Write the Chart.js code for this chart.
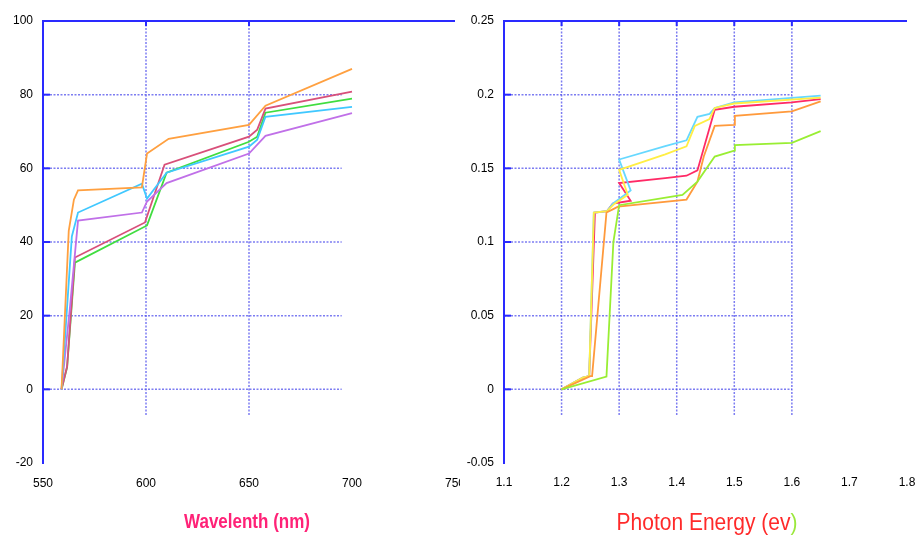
<!DOCTYPE html>
<html>
<head>
<meta charset="utf-8">
<script src="https://cdn.jsdelivr.net/npm/chart.js@4"></script>
<style>
  html, body { margin: 0; padding: 0; background: #fff; }
  body { width: 917px; height: 536px; overflow: hidden; position: relative; }
  .box { position: absolute; top: 0; height: 536px; background: #fff; }
  #leftBox { left: 0; width: 480px; }
  #rightBox { left: 460px; width: 480px; }
  .ttl { position: absolute; white-space: nowrap; font-family: "Liberation Sans", Arial, sans-serif; }
  #ttlLeft { left: 247px; top: 522px; transform: translate(-50%, -50%) scaleY(1.2); font-weight: bold; font-size: 17px; color: #ff2277; }
  #ttlRight { left: 707px; top: 522px; transform: translate(-50%, -50%) scaleY(1.15); font-size: 21px; color: #ff2a2a; }
</style>
</head>
<body>
<div class="box" id="leftBox"><canvas id="canvas1" width="480" height="536"></canvas></div>
<div class="box" id="rightBox"><canvas id="canvas2" width="480" height="536"></canvas></div>
<div class="ttl" id="ttlLeft">Wavelenth (nm)</div>
<div class="ttl" id="ttlRight">Photon Energy (ev<span style="color:#9be83c">)</span></div>
<script>
// left chart: wavelength (nm)
let orangeX = [559, 562.5, 565, 567, 598, 600.5, 611, 650, 658, 700];
let orangeY = [0, 43, 51.5, 54, 54.8, 64, 68, 71.8, 77, 87];
let cyanX = [559, 564, 567, 598, 600.5, 610, 650, 654, 658, 700];
let cyanY = [0, 41.5, 48, 55.8, 51.8, 58.8, 65.9, 67.8, 74, 76.7];
let violetX = [559, 563, 567, 598, 600.5, 610, 650, 658, 700];
let violetY = [0, 21.7, 45.8, 48, 51, 56, 64, 68.8, 75];
let roseX = [559, 561.7, 565.5, 599.5, 609, 650, 654, 658, 700];
let roseY = [0, 6.2, 35.8, 45.3, 61, 68.6, 70.5, 76.2, 80.8];
let greenX = [559, 561.7, 565.5, 600.5, 610, 650, 654, 658, 700];
let greenY = [0, 6, 34.4, 44.5, 58.8, 67.2, 68.6, 75.1, 78.9];

// right chart: photon energy (ev)
let redE = [1.2, 1.237, 1.248, 1.258, 1.279, 1.289, 1.32, 1.30, 1.38, 1.417, 1.436, 1.466, 1.5, 1.6, 1.65];
let redV = [0, 0.008, 0.009, 0.12, 0.121, 0.126, 0.128, 0.14, 0.1434, 0.145, 0.1486, 0.1897, 0.1918, 0.1947, 0.197];
let cyanE = [1.2, 1.237, 1.248, 1.256, 1.279, 1.289, 1.32, 1.30, 1.38, 1.417, 1.436, 1.457, 1.466, 1.5, 1.65];
let cyanV = [0, 0.008, 0.009, 0.12, 0.121, 0.126, 0.135, 0.156, 0.165, 0.169, 0.185, 0.187, 0.191, 0.1947, 0.1993];
let yellowE = [1.2, 1.237, 1.248, 1.256, 1.279, 1.292, 1.315, 1.30, 1.38, 1.417, 1.4315, 1.457, 1.466, 1.5, 1.65];
let yellowV = [0, 0.008, 0.009, 0.12, 0.121, 0.126, 0.132, 0.149, 0.1595, 0.165, 0.1788, 0.1835, 0.191, 0.194, 0.198];
let orangeE = [1.2, 1.25, 1.253, 1.278, 1.288, 1.298, 1.417, 1.436, 1.447, 1.466, 1.5, 1.501, 1.6, 1.65];
let orangeV = [0, 0.0089, 0.009, 0.12, 0.122, 0.124, 0.1288, 0.141, 0.158, 0.1788, 0.1795, 0.1856, 0.1886, 0.1954];
let greenE = [1.2, 1.278, 1.29, 1.3, 1.41, 1.436, 1.466, 1.5, 1.501, 1.6, 1.65];
let greenV = [0, 0.0087, 0.1, 0.125, 0.132, 0.141, 0.158, 0.162, 0.1658, 0.1673, 0.1753];

let leftTicksY = [-20, 100, 20];
let leftTicksX = [550, 750, 50];
let rightTicksY = [-0.05, 0.25, 0.05];
let rightTicksX = [1.1, 1.8, 0.1];

function pts(xs, ys) {
  return xs.map(function(v, i) { return {x: v, y: ys[i]}; });
}

function line(label, xs, ys, color) {
  return {label: label, data: pts(xs, ys), borderColor: color, backgroundColor: color,
    borderWidth: 1.8, pointRadius: 0, tension: 0, fill: false};
}

// dotted grid that stops short of the right edge, plus the solid top line
let dotGrid = {
  id: 'dotGrid',
  beforeDatasetsDraw: function(chart, args, opts) {
    let ctx = chart.ctx, a = chart.chartArea, x = chart.scales.x, y = chart.scales.y;
    ctx.save();
    ctx.strokeStyle = 'rgba(70,70,235,0.7)';
    ctx.lineWidth = 1.5;
    ctx.setLineDash([2, 1.5]);
    opts.ys.forEach(function(v) {
      let py = y.getPixelForValue(v);
      ctx.beginPath(); ctx.moveTo(a.left, py); ctx.lineTo(x.getPixelForValue(opts.xEnd), py); ctx.stroke();
    });
    opts.xs.forEach(function(v) {
      let px = x.getPixelForValue(v);
      ctx.beginPath(); ctx.moveTo(px, a.top); ctx.lineTo(px, y.getPixelForValue(opts.yEnd)); ctx.stroke();
    });
    ctx.setLineDash([]);
    ctx.strokeStyle = '#2a2aff';
    ctx.lineWidth = 2;
    ctx.beginPath(); ctx.moveTo(a.left, a.top); ctx.lineTo(a.right, a.top); ctx.stroke();
    opts.xs.forEach(function(v) {
      let px = x.getPixelForValue(v);
      ctx.beginPath(); ctx.moveTo(px, a.top); ctx.lineTo(px, a.top + 5); ctx.stroke();
    });
    opts.ys.forEach(function(v) {
      let py = y.getPixelForValue(v);
      ctx.beginPath(); ctx.moveTo(a.left, py); ctx.lineTo(a.left + 7, py); ctx.stroke();
    });
    ctx.restore();
  }
};

let tickFont = {family: '"Liberation Sans", Arial, sans-serif', size: 12};
function fmt(v) { return String(+(+v).toFixed(2)); }

function makeChart(id, datasets, tx, ty, grid, yWidth, xPad, rightPad) {
  return new Chart(document.getElementById(id).getContext('2d'), {
    type: 'line',
    data: {datasets: datasets},
    plugins: [dotGrid],
    options: {
      responsive: false,
      animation: false,
      layout: {padding: {top: 21, left: 0, right: rightPad, bottom: 33}},
      plugins: {legend: {display: false}, tooltip: {enabled: false}, dotGrid: grid},
      scales: {
        x: {
          type: 'linear', min: tx[0], max: tx[1],
          ticks: {stepSize: tx[2], color: '#000', font: tickFont, padding: xPad, maxRotation: 0, callback: fmt},
          grid: {display: false, drawTicks: false},
          border: {display: false},
          afterFit: function(s) { s.height = 40; }
        },
        y: {
          min: ty[0], max: ty[1],
          ticks: {stepSize: ty[2], color: '#000', font: tickFont, padding: 10, callback: fmt},
          grid: {display: false, drawTicks: false},
          border: {display: true, color: '#2a2aff', width: 2},
          afterFit: function(s) { s.width = yWidth; }
        }
      }
    }
  });
}

makeChart('canvas1', [
  line('orange', orangeX, orangeY, '#ffa040'),
  line('cyan', cyanX, cyanY, '#40c8ff'),
  line('violet', violetX, violetY, '#c070e8'),
  line('rose', roseX, roseY, '#d8507a'),
  line('green', greenX, greenY, '#40dd40')
], leftTicksX, leftTicksY, {xs: [600, 650], ys: [0, 20, 40, 60, 80], xEnd: 695, yEnd: -7}, 43, 13, 25);

makeChart('canvas2', [
  line('green', greenE, greenV, '#99ee33'),
  line('orange', orangeE, orangeV, '#ff9a3c'),
  line('yellow', yellowE, yellowV, '#ffee44'),
  line('cyan', cyanE, cyanV, '#66d8ff'),
  line('red', redE, redV, '#ff2a66')
], rightTicksX, rightTicksY, {xs: [1.2, 1.3, 1.4, 1.5, 1.6], ys: [0, 0.05, 0.1, 0.15, 0.2], xEnd: 1.6, yEnd: -0.018}, 44, 12, 33);
</script>
</body>
</html>
